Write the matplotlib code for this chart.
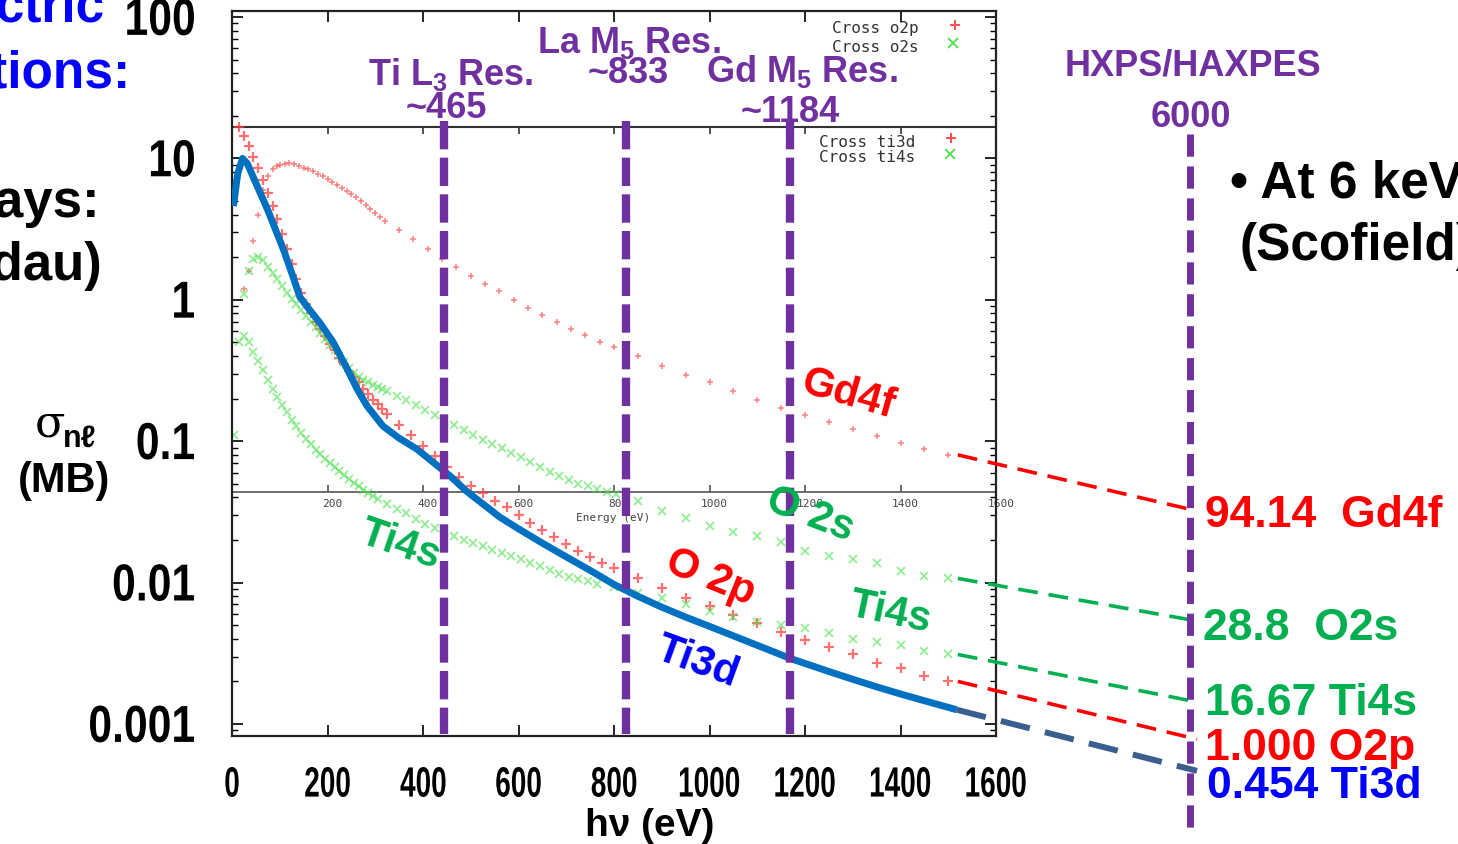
import matplotlib.pyplot as plt
from matplotlib.ticker import LogLocator, NullFormatter, NullLocator
from matplotlib.textpath import TextPath
from matplotlib.patches import PathPatch
from matplotlib.font_manager import FontProperties
from matplotlib.transforms import Affine2D

plt.rcParams['mathtext.fontset'] = 'custom'
plt.rcParams['mathtext.rm'] = 'Liberation Sans:bold'
plt.rcParams['mathtext.bf'] = 'Liberation Sans:bold'
plt.rcParams['mathtext.it'] = 'Liberation Sans:bold'

W, H = 1458, 845

# Photoionisation cross sections (Mb) vs photon energy (eV)
o2p_e = [15, 25, 35, 45, 55, 65, 75, 85, 95, 105, 115, 125, 135, 145, 155, 165, 175, 185, 195, 205,
         215, 225, 235, 245, 255, 265, 275, 285, 295, 305, 315, 325,
         350, 375, 400, 425, 450, 475, 500, 525, 550, 575, 600, 625, 650, 675, 700, 725, 750, 775, 800,
         850, 900, 950, 1000, 1050, 1100, 1150, 1200, 1250, 1300, 1350, 1400, 1450, 1500]
o2p_s = [16.7, 14.5, 12.3, 10.2, 8.5, 7.0, 5.7, 4.6, 3.7, 2.9, 2.3, 1.8, 1.4, 1.12, 0.93, 0.8, 0.7, 0.62, 0.55, 0.49,
         0.44, 0.39, 0.35, 0.315, 0.285, 0.26, 0.235, 0.215, 0.197, 0.182, 0.168, 0.156,
         0.13, 0.11, 0.093, 0.078, 0.066, 0.056, 0.048, 0.043, 0.038, 0.034, 0.03, 0.0265, 0.0235, 0.021, 0.0188,
         0.0168, 0.0152, 0.0138, 0.0127,
         0.0108, 0.0092, 0.0078, 0.0068, 0.0059, 0.0052, 0.0045, 0.0039, 0.0035, 0.0031, 0.0027, 0.0025, 0.0022, 0.0020]

gd4f_e = [25, 35, 45, 55, 65, 75, 85, 95, 100, 110, 120, 130, 140, 150, 160, 170, 180, 190, 200, 210,
          220, 230, 240, 250, 260, 270, 280, 290, 300, 310, 320,
          350, 380, 410, 440, 470, 500, 530, 560, 590, 620, 650, 680, 710, 740, 770, 800,
          850, 900, 950, 1000, 1050, 1100, 1150, 1200, 1250, 1300, 1350, 1400, 1450, 1500]
gd4f_s = [1.2, 1.6, 2.6, 4.0, 6.0, 7.5, 8.4, 8.9, 9.0, 9.15, 9.2, 9.1, 8.9, 8.6, 8.35, 8.1, 7.8, 7.45, 7.1, 6.8,
          6.5, 6.2, 5.9, 5.6, 5.3, 5.0, 4.7, 4.4, 4.1, 3.85, 3.6,
          3.1, 2.7, 2.3, 1.95, 1.7, 1.48, 1.3, 1.15, 1.0, 0.88, 0.78, 0.70, 0.62, 0.56, 0.50, 0.46,
          0.40, 0.34, 0.295, 0.26, 0.225, 0.195, 0.172, 0.153, 0.137, 0.122, 0.109, 0.097, 0.088, 0.080]

o2s_e = [25, 35, 45, 55, 65, 75, 85, 95, 105, 115, 125, 135, 145, 155, 165, 175, 185, 195, 205, 215,
         225, 235, 245, 255, 265, 275, 285, 295, 305, 315, 325,
         345, 365, 385, 405, 425, 445, 465, 485, 505, 525, 545, 565, 585, 605, 625, 645, 665, 685, 705,
         725, 745, 765, 785, 805,
         850, 900, 950, 1000, 1050, 1100, 1150, 1200, 1250, 1300, 1350, 1400, 1450, 1500]
o2s_s = [1.1, 1.6, 1.95, 2.0, 1.9, 1.7, 1.55, 1.4, 1.25, 1.12, 1.02, 0.93, 0.85, 0.77, 0.7, 0.64, 0.58, 0.53, 0.48, 0.44,
         0.4, 0.36, 0.33, 0.305, 0.285, 0.27, 0.26, 0.25, 0.24, 0.232, 0.225,
         0.21, 0.195, 0.18, 0.165, 0.152, 0.14, 0.13, 0.12, 0.11, 0.102, 0.096, 0.09, 0.083, 0.077, 0.071, 0.066,
         0.061, 0.057, 0.053, 0.05, 0.048, 0.046, 0.044, 0.042,
         0.0375, 0.032, 0.0287, 0.025, 0.0228, 0.0214, 0.0194, 0.0167, 0.0155, 0.0147, 0.0137, 0.0121, 0.0112, 0.0107]

ti4s_e = [5, 15, 25, 35, 45, 55, 65, 75, 85, 95, 105, 115, 125, 135, 145, 155, 165, 175, 185, 195,
          205, 215, 225, 235, 245, 255, 265, 275, 285, 295, 305,
          325, 345, 365, 385, 405, 425, 445, 465, 485, 505, 525, 545, 565, 585, 605, 625, 645, 665, 685,
          705, 725, 745, 765,
          800, 850, 900, 950, 1000, 1050, 1100, 1150, 1200, 1250, 1300, 1350, 1400, 1450, 1500]
ti4s_s = [0.11, 0.5, 0.55, 0.5, 0.43, 0.37, 0.32, 0.27, 0.235, 0.205, 0.18, 0.16, 0.142, 0.127, 0.114, 0.104,
          0.095, 0.087, 0.081, 0.075, 0.07, 0.066, 0.062, 0.058, 0.054, 0.051, 0.048, 0.045, 0.043, 0.041, 0.039,
          0.036, 0.033, 0.031, 0.028, 0.026, 0.0245, 0.023, 0.0215, 0.02, 0.019, 0.018, 0.017, 0.0163, 0.0155,
          0.0146, 0.0138, 0.013, 0.0122, 0.0115, 0.011, 0.0106, 0.0102, 0.0098,
          0.0093, 0.0085, 0.0078, 0.007, 0.0063, 0.0057, 0.0053, 0.005, 0.0048, 0.0044, 0.004, 0.0038, 0.0036,
          0.0033, 0.0031]

ti3d_e = [3, 12, 22, 32, 45, 60, 75, 90, 107, 125, 142, 160, 185, 212, 240, 262, 283, 316, 350, 387,
          421, 456, 492, 530, 561, 600, 650, 700, 750, 800, 850, 900, 950, 1000, 1050, 1100, 1170,
          1250, 1300, 1350, 1400, 1450, 1518]
ti3d_s = [4.6, 7.8, 10.0, 9.2, 7.3, 5.6, 4.3, 3.2, 2.3, 1.55, 1.05, 0.87, 0.68, 0.5, 0.33, 0.234, 0.177, 0.128,
          0.105, 0.088, 0.071, 0.057, 0.044, 0.035, 0.029, 0.024, 0.019, 0.0152, 0.0122, 0.0097, 0.008,
          0.0067, 0.0057, 0.0049, 0.0042, 0.0036, 0.0029, 0.00235, 0.00207, 0.00183, 0.00163, 0.00146, 0.00126]

# where the 6 keV values land on the right-hand marker (scaled onto this axis)
hx_names = ['94.14  Gd4f', '28.8  O2s', '16.67 Ti4s', '1.000 O2p', '0.454 Ti3d']
hx_end = [0.0321, 0.00535, 0.00143, 0.00078, 0.000466]

res_labels = ['Ti L$_\\mathbf{3}$ Res.', 'La M$_\\mathbf{5}$ Res.', 'Gd M$_\\mathbf{5}$ Res.']
res_values = ['~465', '~833', '~1184']
res_drawn = [445, 826, 1168]   # where the dashed markers sit on the drawn axis
hx_drawn = 2006                # 6000 eV marker, outside the 0-1600 axis

x_ticks = list(range(0, 1601, 200))
y_ticks = [0.001, 0.01, 0.1, 1, 10, 100]
y_tick_text = ['0.001', '0.01', '0.1', '1', '10', '100']

red = '#FF0000'
green = '#00B050'
blue = '#0000FF'
purple = '#7030A0'
sans = ['Liberation Sans', 'DejaVu Sans']

fig = plt.figure(figsize=(W / 100, H / 100), dpi=100)
ax = fig.add_axes([232 / W, 1 - 737 / H, 764 / W, 725 / H])
ax.set_yscale('log')
ax.set_xlim(0, 1600)
ax.set_ylim(10 ** -3.085, 10 ** 2.042)


def ftext(x, y, s, **kw):
    fig.text(x / W, 1 - y / H, s, **kw)


def squeezed(xd, yd, s, size, sx, ha):
    # bold text narrowed horizontally (the slide uses a condensed face); xd, yd in display pixels
    fp = FontProperties(family='Liberation Sans', weight='bold')
    tp = TextPath((0, 0), s, size=size, prop=fp)
    ext = tp.get_extents()
    x0 = ext.x1 if ha == 'right' else (ext.x0 + ext.x1) / 2
    y0 = (ext.y0 + ext.y1) / 2
    k = 100 / 72
    tr = Affine2D().translate(-x0, -y0).scale(sx * k / W, k / H).translate(xd / W, yd / H) + fig.transFigure
    fig.add_artist(PathPatch(tp, transform=tr, facecolor='black', edgecolor='none'))


# gnuplot-ish markers
ax.plot(gd4f_e, gd4f_s, '+', color=(1, 0.3, 0.3), ms=5, mew=1.1, alpha=0.7, zorder=2)
ax.plot(o2p_e, o2p_s, '+', color=(1, 0.25, 0.25), ms=7, mew=1.6, alpha=0.75, zorder=2)
ax.plot(o2s_e, o2s_s, 'x', color=(0.3, 0.88, 0.3), ms=6, mew=1.3, alpha=0.6, zorder=2)
ax.plot(ti4s_e, ti4s_s, 'x', color=(0.3, 0.88, 0.3), ms=6, mew=1.3, alpha=0.6, zorder=2)

ax.plot(ti3d_e, ti3d_s, color='#0070C0', lw=5, solid_capstyle='butt', zorder=4)

# inner gnuplot frames / axis
ax.axhline(16.7, color='#333333', lw=1.5, zorder=1)
ax.axhline(0.0438, color='#555555', lw=1.2, zorder=1)
ax.vlines(x_ticks, 0.0438, 0.049, color='#555555', lw=1.2, zorder=1)
ax.vlines(x_ticks, 16.7, 14.8, color='#333333', lw=1.2, zorder=1)
for t in x_ticks[1:]:
    ax.text(t + 10, 0.0366, str(t), fontsize=8, family='DejaVu Sans Mono', color='#444444',
            ha='center', va='center', zorder=1)
ax.text(798, 0.0293, 'Energy (eV)', fontsize=8, family='DejaVu Sans Mono', color='#444444',
        ha='center', va='center', zorder=1)

# legends of the two gnuplot panels
for y, s in [(33, 'Cross o2p'), (52, 'Cross o2s')]:
    ftext(832, y, s, fontsize=11.5, family='DejaVu Sans Mono', color='#333333', va='baseline')
for y, s in [(147, 'Cross ti3d'), (162, 'Cross ti4s')]:
    ftext(819, y, s, fontsize=11.5, family='DejaVu Sans Mono', color='#333333', va='baseline')
ax.plot([0.946, 0.941], [0.9807, 0.825], '+', color=(1, 0.3, 0.3), ms=7, mew=1.4, transform=ax.transAxes)
ax.plot([0.9437, 0.9398], [0.9559, 0.8028], 'x', color=(0.3, 0.88, 0.3), ms=7, mew=1.3,
        transform=ax.transAxes)

# resonance markers
for xr in res_drawn:
    ax.plot([xr, xr], [18.4, 10 ** -3.07], color=purple, lw=6, ls=(0, (3.4, 1.0)), zorder=5)
ax.plot([hx_drawn, hx_drawn], [14.9, 1.8e-4], color=purple, lw=5, ls=(0, (3.2, 1.4)),
        clip_on=False, zorder=5)

# dashed links from 1.5 keV to the 6 keV values
series_end = [(gd4f_e[-1], gd4f_s[-1], red), (o2s_e[-1], o2s_s[-1], green),
              (ti4s_e[-1], ti4s_s[-1], green), (o2p_e[-1], o2p_s[-1], red)]
for (e0, s0, c), s1 in zip(series_end, hx_end[:4]):
    ax.plot([e0 + 20, hx_drawn + 15], [s0, s1], color=c, lw=2.6, ls=(0, (5.5, 3.0)),
            clip_on=False, zorder=3)
ax.plot([ti3d_e[-1], hx_drawn + 15], [ti3d_s[-1], hx_end[4]], color='#3A5F8F', lw=4.3,
        ls=(0, (5, 2.6)), clip_on=False, zorder=3)

# axes look
for sp in ax.spines.values():
    sp.set_linewidth(1.6)
    sp.set_color('#222222')
ax.set_xticks(x_ticks)
ax.xaxis.set_minor_locator(NullLocator())
ax.set_yticks(y_ticks)
ax.yaxis.set_minor_locator(LogLocator(base=10, subs=range(2, 10), numticks=10))
ax.yaxis.set_minor_formatter(NullFormatter())
ax.tick_params(which='major', direction='in', length=8, width=1.2, top=True, right=True,
               labelbottom=False, labelleft=False)
ax.tick_params(which='minor', direction='in', length=4, width=1, right=True)
ax.set_ylim(10 ** -3.085, 10 ** 2.042)

# condensed tick labels placed at the ticks
for t in x_ticks:
    xd, _ = ax.transData.transform((t, 1.0))
    squeezed(xd, H - 783, str(t), 30.5, 0.66, 'center')
for v, s in zip(y_ticks, y_tick_text):
    _, yd = ax.transData.transform((100, v))
    squeezed(194, yd, s, 37.5, 0.82, 'right')

# axis titles
ftext(650, 836, 'h\u03bd (eV)', fontsize=28, fontweight='bold', family=sans, ha='center', va='baseline')
ftext(35, 437, '\u03c3', fontsize=32, family='DejaVu Serif', va='baseline')
ftext(63, 447, 'n\u2113', fontsize=22, fontweight='bold', family=sans, va='baseline')
ftext(64, 492, '(MB)', fontsize=30, fontweight='bold', family=sans, ha='center', va='baseline')

# resonance labels
res_lab_xy = [(451, 85), (629, 53), (802, 82)]
res_val_xy = [(446, 118), (628, 83), (790, 122)]
for s, (x, y) in zip(res_labels, res_lab_xy):
    ftext(x, y, s, fontsize=26, fontweight='bold', family=sans, color=purple, ha='center', va='baseline')
for s, (x, y) in zip(res_values, res_val_xy):
    ftext(x, y, s, fontsize=26, fontweight='bold', family=sans, color=purple, ha='center', va='baseline')
ftext(1193, 76, 'HXPS/HAXPES', fontsize=26, fontweight='bold', family=sans, color=purple,
      ha='center', va='baseline')
ftext(1191, 127, '6000', fontsize=26, fontweight='bold', family=sans, color=purple,
      ha='center', va='baseline')

# 6 keV values
hx_colors = [red, green, green, red, blue]
hx_xy = [(1205, 527), (1203, 640), (1205, 715), (1205, 760), (1207, 798)]
for s, c, (x, y) in zip(hx_names, hx_colors, hx_xy):
    ftext(x, y, s, fontsize=32, fontweight='bold', family=sans, color=c, va='baseline')

# curve labels
curve_labels = [('Gd4f', red, 848, 395, -16), ('O 2s', green, 810, 515, -21), ('O 2p', red, 710, 578, -22),
                ('Ti4s', green, 400, 545, -19), ('Ti4s', green, 890, 613, -12), ('Ti3d', blue, 697, 662, -20)]
for s, c, x, y, r in curve_labels:
    ftext(x, y, s, fontsize=30, fontweight='bold', family=sans, color=c, ha='center', va='center',
          rotation=r, rotation_mode='anchor')

# slide text cut off by the frame
ftext(105, 22, 'Photoelectric', fontsize=37, fontweight='bold', family=sans, color=blue, ha='right',
      va='baseline')
ftext(130, 87, 'Cross Sections:', fontsize=37, fontweight='bold', family=sans, color=blue, ha='right',
      va='baseline')
ftext(100, 217, 'Soft X-rays:', fontsize=38, fontweight='bold', family=sans, ha='right', va='baseline')
ftext(102, 280, '(Yeh & Lindau)', fontsize=38, fontweight='bold', family=sans, ha='right', va='baseline')
ftext(1230, 197, '\u2022 At 6 keV', fontsize=37, fontweight='bold', family=sans, va='baseline')
ftext(1240, 260, '(Scofield)', fontsize=37, fontweight='bold', family=sans, va='baseline')

fig.savefig('out.png', dpi=100)
